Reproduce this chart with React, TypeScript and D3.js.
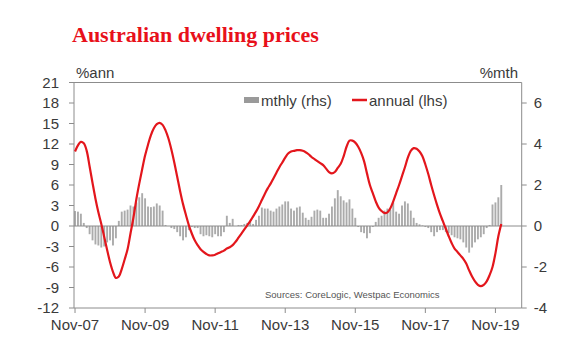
import React from "react";
import * as d3 from "d3";

const tickLabels = ["Nov-07", "Nov-09", "Nov-11", "Nov-13", "Nov-15", "Nov-17", "Nov-19"];
const tickMonths = [0, 24, 48, 72, 96, 120, 144];
const leftTicks = [-12, -9, -6, -3, 0, 3, 6, 9, 12, 15, 18, 21];
const rightTicks = [-4, -2, 0, 2, 4, 6];

// annual % change (lhs), monthly from Nov-07
const annual = [
  10.9, 11.8, 12.3, 12.1, 11.0, 8.7, 6.3, 4.0, 2.0, 0.3,
  -1.6, -3.5, -5.3, -6.7, -7.6, -7.4, -6.3, -4.9, -3.4, -1.1,
  1.2, 3.9, 6.2, 8.3, 10.3, 11.9, 13.3, 14.3, 14.9, 15.1,
  14.8, 14.0, 12.8, 11.2, 9.3, 7.2, 5.1, 3.2, 1.6, 0.1,
  -1.1, -2.1, -2.8, -3.4, -3.8, -4.1, -4.3, -4.3, -4.2, -4.0,
  -3.8, -3.6, -3.3, -3.1, -2.8, -2.3, -1.7, -1.1, -0.5, 0.1,
  0.7, 1.4, 2.1, 2.9, 3.8, 4.7, 5.5, 6.2, 7.0, 7.8,
  8.6, 9.3, 10.0, 10.6, 10.9, 11.0, 11.1, 11.1, 11.0, 10.8,
  10.5, 10.1, 9.8, 9.5, 9.2, 8.9, 8.4, 7.9, 7.7, 7.9,
  8.5, 9.1, 10.2, 11.6, 12.5, 12.5, 12.2, 11.6, 10.7, 9.5,
  7.7, 6.0, 4.8, 3.6, 2.7, 2.2, 1.9, 2.0, 2.6, 3.6,
  4.8, 6.0, 7.3, 8.6, 10.0, 11.0, 11.4, 11.3, 10.9, 10.2,
  9.0, 7.6, 6.0, 4.5, 3.1, 1.8, 0.7, -0.4, -1.5, -2.5,
  -3.3, -3.8, -4.3, -4.8, -5.5, -6.5, -7.4, -8.1, -8.6, -8.8,
  -8.6, -8.1, -7.2, -6.0, -4.0, -1.5, 0.3,
];

// monthly % change (rhs)
const monthly = [
  0.73, 0.7, 0.6, 0.15, -0.1, -0.4, -0.7, -0.9, -0.95, -1.05,
  -1.0, -0.8, -0.7, -0.95, -0.6, 0.25, 0.7, 0.75, 0.8, 1.0,
  0.95, 1.15, 1.4, 1.6, 1.35, 0.95, 0.92, 0.95, 1.1, 1.0,
  0.75, 0.05, 0.0, -0.1, -0.15, -0.3, -0.5, -0.7, -0.55, -0.2,
  -0.05, -0.1, -0.1, -0.4, -0.5, -0.45, -0.5, -0.55, -0.4, -0.5,
  -0.5, -0.3, 0.5, 0.15, 0.35, 0.0, 0.05, 0.05, 0.1, 0.15,
  0.2, 0.1, 0.3, 0.5, 0.9, 0.85, 0.85, 0.75, 0.7, 0.85,
  0.95, 1.05, 1.2, 1.2, 0.85, 0.75, 0.9, 0.95, 0.65, 0.4,
  0.3, 0.45, 0.75, 0.8, 0.75, 0.4, 0.4, 0.6, 0.95, 1.35,
  1.75, 1.45, 1.25, 1.15, 1.3, 0.85, 0.4, -0.05, -0.3, -0.35,
  -0.6, -0.35, -0.05, 0.2, 0.4, 0.5, 0.75, 0.85, 0.8, 1.15,
  0.7, 0.6, 1.0, 1.2, 1.1, 0.75, 0.4, 0.15, 0.08, 0.03,
  -0.05, -0.1, -0.3, -0.5, -0.3, -0.2, -0.2, -0.3, -0.35, -0.45,
  -0.55, -0.6, -0.65, -0.8, -1.05, -1.3, -1.05, -0.8, -0.65, -0.55,
  -0.4, -0.1, 0.05, 1.05, 1.15, 1.4, 2.0,
];

const FONT = "'Liberation Sans', Arial, sans-serif";
const AXIS = "#8c8c8c";
const TEXT = "#3a3a3a";
const RED = "#e3161c";
const BAR = "#ababab";

export default function App() {
  const W = 580, H = 352;
  const L = 74, R = 521.7, T = 82.5, B = 308;
  const x = d3.scaleLinear().domain([-0.35, 153]).range([L, R]);
  const yL = d3.scaleLinear().domain([-12, 21]).range([B, T]);
  const yR = d3.scaleLinear().domain([-4, 7]).range([B, T]);
  const line = d3
    .line<number>()
    .x((_, i) => x(i))
    .y((d) => yL(d))
    .curve(d3.curveCatmullRom);
  const bw = 1.9;
  const zero = yR(0);

  return (
    <svg
      width={W}
      height={H}
      style={{ position: "absolute", left: 0, top: 0, background: "#fff" }}
      fontFamily={FONT}
    >
      <text x={72} y={42} fontFamily="'Liberation Serif', 'Times New Roman', serif" fontWeight="bold" fontSize={22} fill="#e8101a">
        Australian dwelling prices
      </text>

      {/* bars */}
      {monthly.map((v, i) => (
        <rect
          key={i}
          x={x(i) - bw / 2}
          width={bw}
          y={Math.min(yR(v), zero)}
          height={Math.abs(yR(v) - zero)}
          fill={BAR}
        />
      ))}

      {/* zero line */}
      <line x1={L} x2={R} y1={zero} y2={zero} stroke={AXIS} strokeWidth={1} />

      {/* frame */}
      <line x1={L} x2={R} y1={T} y2={T} stroke={AXIS} strokeWidth={1} />
      <line x1={L} x2={L} y1={T} y2={B} stroke={AXIS} strokeWidth={1} />
      <line x1={R} x2={R} y1={T} y2={B} stroke={AXIS} strokeWidth={1} />
      <line x1={L} x2={R} y1={B} y2={B} stroke={AXIS} strokeWidth={1} />

      {/* annual line */}
      <path d={line(annual) || ""} fill="none" stroke={RED} strokeWidth={2.2} />

      {/* left axis */}
      {leftTicks.map((t) => (
        <g key={t}>
          <line x1={L - 5} x2={L} y1={yL(t)} y2={yL(t)} stroke={AXIS} />
          <text x={L - 15} y={yL(t)} dy="0.35em" textAnchor="end" fontSize={15} fill={TEXT}>
            {t}
          </text>
        </g>
      ))}
      {/* right axis */}
      {rightTicks.map((t) => (
        <g key={t}>
          <line x1={R} x2={R + 5} y1={yR(t)} y2={yR(t)} stroke={AXIS} />
          <text x={R + 12} y={yR(t)} dy="0.35em" textAnchor="start" fontSize={15} fill={TEXT}>
            {t}
          </text>
        </g>
      ))}
      {/* bottom axis */}
      {tickMonths.map((m, i) => (
        <g key={m}>
          <line x1={x(m)} x2={x(m)} y1={B} y2={B + 5} stroke={AXIS} />
          <text x={x(m)} y={330} textAnchor="middle" fontSize={15} fill={TEXT}>
            {tickLabels[i]}
          </text>
        </g>
      ))}

      <text x={76} y={78} fontSize={15} fill={TEXT}>%ann</text>
      <text x={518} y={78} textAnchor="end" fontSize={15} fill={TEXT}>%mth</text>

      {/* legend */}
      <rect x={244} y={97} width={15} height={6} fill="#9a9a9a" />
      <text x={261} y={106} fontSize={15} fill={TEXT}>mthly (rhs)</text>
      <line x1={352} x2={367} y1={100} y2={100} stroke={RED} strokeWidth={2.5} />
      <text x={369} y={106} fontSize={15} fill={TEXT}>annual (lhs)</text>

      <text x={265} y={298} fontSize={9.5} fill="#555">Sources: CoreLogic, Westpac Economics</text>
    </svg>
  );
}
